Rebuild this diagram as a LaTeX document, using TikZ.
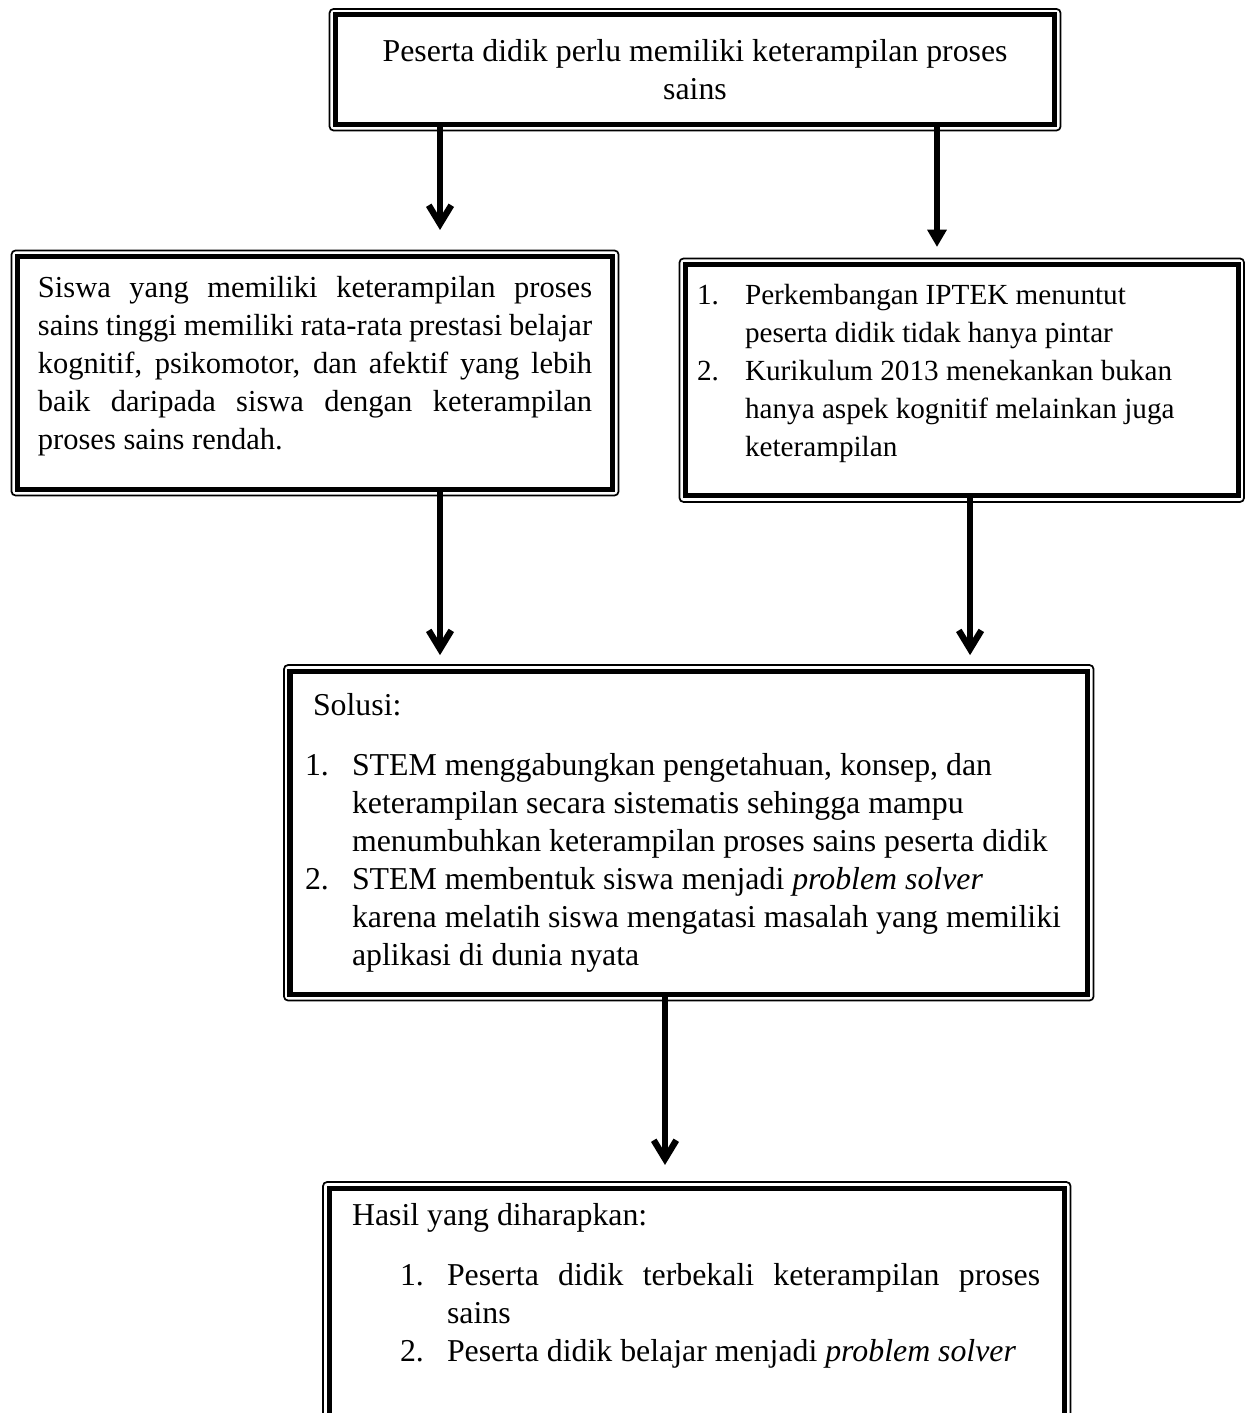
\documentclass[tikz,border=0pt]{standalone}
\usepackage{fontspec}
\setmainfont{Liberation Serif}
\usepackage{tikz}
\usetikzlibrary{arrows.meta, positioning, calc}

\begin{document}
\begin{tikzpicture}[
  kotak/.style={rectangle, draw=black, line width=1.9pt, outer sep=0pt,
    inner sep=0pt, font=\fontsize{12pt}{14.3pt}\selectfont},
  sedang/.style={font=\fontsize{11.5pt}{14.3pt}\selectfont},
  kecil/.style={font=\fontsize{11pt}{14.3pt}\selectfont},
  bingkai/.style={draw=black, line width=0.65pt, rounded corners=1.5pt},
  panah/.style={line width=2.4pt, -{Straight Barb[length=7pt, width=8.5pt]}},
  panahSegitiga/.style={line width=2.4pt, -{Triangle[length=6.5pt, width=7pt]}},
]
\clip (0,0) rectangle (16.496,-18.722);

\node[kotak, minimum width=9.527cm, minimum height=1.451cm, align=center]
  (atas) at (9.209,-0.924)
  {Peserta didik perlu memiliki keterampilan proses\\sains};

\node[kotak, sedang, minimum width=7.884cm, minimum height=3.087cm,
  text width=208.9pt, align=justify] (kiri) at (4.174,-4.942)
  {\hyphenpenalty=10000\exhyphenpenalty=10000
   Siswa yang memiliki keterampilan proses\linebreak
   sains tinggi memiliki rata-rata prestasi belajar\linebreak
   kognitif, psikomotor, dan afektif yang lebih\linebreak
   baik daripada siswa dengan keterampilan\linebreak
   proses sains rendah.\rule[-7.5pt]{0pt}{7.5pt}};

\node[kotak, kecil, minimum width=7.321cm, minimum height=3.067cm,
  text width=199.6pt, align=justify] (kanan) at (12.743,-5.038)
  {\begin{tabular}{@{}p{18.1pt}@{}l@{}}
   1. & Perkembangan IPTEK menuntut\\
      & peserta didik tidak hanya pintar\\
   2. & Kurikulum 2013 menekankan bukan\\
      & hanya aspek kognitif melainkan juga\\
      & keterampilan\rule[-9.8pt]{0pt}{9.8pt}
   \end{tabular}};

\node[kotak, minimum width=10.567cm, minimum height=4.286cm,
  text width=289.3pt, align=justify] (solusi) at (9.126,-11.034)
  {\begin{tabular}{@{}p{17.7pt}@{}l@{}}
   \multicolumn{2}{@{\hspace{3pt}}l}{Solusi:}\\[8.3pt]
   1. & STEM menggabungkan pengetahuan, konsep, dan\\
      & keterampilan secara sistematis sehingga mampu\\
      & menumbuhkan keterampilan proses sains peserta didik\\
   2. & STEM membentuk siswa menjadi \textit{problem solver}\\
      & karena melatih siswa mengatasi masalah yang memiliki\\
      & aplikasi di dunia nyata
   \end{tabular}};

\node[kotak, minimum width=9.745cm, minimum height=3.008cm,
  text width=259.9pt, align=justify] (hasil) at (9.232,-17.245)
  {\begin{tabular}{@{}p{18.1pt}@{}p{17.7pt}@{}p{223.6pt}@{}}
   \multicolumn{3}{@{}l}{Hasil yang diharapkan:}\\[8.3pt]
   & 1. & Peserta didik terbekali keterampilan proses\linebreak sains\\
   & 2. & Peserta didik belajar menjadi \textit{problem solver}\rule[-16pt]{0pt}{16pt}
   \end{tabular}};

% bingkai tipis di luar garis tebal
\foreach \k in {atas, kiri, kanan, solusi, hasil}
  \draw[bingkai] ($(\k.north west)+(-2.26pt,2.26pt)$)
    rectangle ($(\k.south east)+(2.26pt,-2.26pt)$);

\coordinate (jalurKiri)   at (5.830,0);
\coordinate (jalurKanan)  at (12.415,0);
\coordinate (jalurKanan2) at (12.853,0);
\coordinate (jalurTengah) at (8.811,0);

\draw[panah, shorten >=10pt] (atas.south -| jalurKiri) -- (kiri.north -| jalurKiri);
\draw[panahSegitiga, shorten >=6.6pt] (atas.south -| jalurKanan) -- (kanan.north -| jalurKanan);
\draw[panah, shorten >=6pt] (kiri.south -| jalurKiri) -- (solusi.north -| jalurKiri);
\draw[panah, shorten >=6pt] (kanan.south -| jalurKanan2) -- (solusi.north -| jalurKanan2);
\draw[panah, shorten >=8.7pt] (solusi.south -| jalurTengah) -- (hasil.north -| jalurTengah);
\end{tikzpicture}
\end{document}
